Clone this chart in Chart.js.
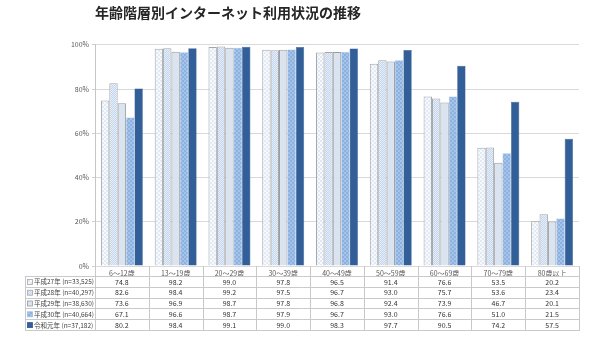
<!DOCTYPE html>
<html>
<head>
<meta charset="utf-8">
<script src="https://cdn.jsdelivr.net/npm/chart.js@4.4.1/dist/chart.umd.min.js"></script>
<style>
  html, body { margin: 0; padding: 0; background: #fff; }
  #c { display: block; }
</style>
</head>
<body>
<canvas id="c" width="601" height="339"></canvas>
<script>
// Age groups (x categories)
const categories = ['6～12歳', '13～19歳', '20～29歳', '30～39歳', '40～49歳', '50～59歳', '60～69歳', '70～79歳', '80歳以上'];

// Survey years with sample sizes
const seriesNames = ['平成27年 (n=33,525)', '平成28年 (n=40,297)', '平成29年 (n=38,630)', '平成30年 (n=40,664)', '令和元年 (n=37,182)'];

// Internet usage rate (%) by age group
const h27 = [74.8, 98.2, 99.0, 97.8, 96.5, 91.4, 76.6, 53.5, 20.2];
const h28 = [82.6, 98.4, 99.2, 97.5, 96.7, 93.0, 75.7, 53.6, 23.4];
const h29 = [73.6, 96.9, 98.7, 97.8, 96.8, 92.4, 73.9, 46.7, 20.1];
const h30 = [67.1, 96.6, 98.7, 97.9, 96.7, 93.0, 76.6, 51.0, 21.5];
const r01 = [80.2, 98.4, 99.1, 99.0, 98.3, 97.7, 90.5, 74.2, 57.5];

// Percent axis ticks
const yTicks = [0, 20, 40, 60, 80, 100];

const FONT = '"Noto Sans CJK JP", "Noto Sans", sans-serif';

// Small tiled fills for the bars
function pattern(bg, fg, cell) {
  const c = document.createElement('canvas');
  c.width = cell * 2; c.height = cell * 2;
  const g = c.getContext('2d');
  g.fillStyle = bg; g.fillRect(0, 0, c.width, c.height);
  g.fillStyle = fg;
  g.fillRect(0, 0, cell, cell);
  g.fillRect(cell, cell, cell, cell);
  return g.createPattern(c, 'repeat');
}

const fills = [
  pattern('#f6f9fd', '#e1eaf5', 2),
  pattern('#c4d6ee', '#e6eef9', 1),
  '#dae4f1',
  pattern('#8bb1e0', '#a6c4ea', 2),
  '#335f99'
];
const borders = ['#a6a6a6', '#a6a6a6', '#9c9c9c', '#9fbde3', '#30588f'];
const borderWidths = [1, 1, 1, 0.5, 0.5];

const seriesData = [h27, h28, h29, h30, r01];

// Data table drawn below the plot, aligned to the category scale
const dataTable = {
  id: 'dataTable',
  afterDraw(chart) {
    const ctx = chart.ctx;
    const area = chart.chartArea;
    const xs = chart.scales.x;
    const n = categories.length;
    const colW = (area.right - area.left) / n;
    const top = Math.round(area.bottom);
    const headH = 10;
    const rowH = 10.8;
    const tableLeft = 25;
    const bodyTop = top + headH;
    const bottom = bodyTop + rowH * seriesNames.length;

    ctx.save();
    ctx.strokeStyle = '#c9c9c9';
    ctx.lineWidth = 1;
    ctx.beginPath();
    // verticals between categories (header + body)
    for (let i = 0; i <= n; i++) {
      const vx = Math.round(area.left + colW * i) + 0.5;
      ctx.moveTo(vx, top);
      ctx.lineTo(vx, Math.round(bottom) + 0.5);
    }
    // left border of the legend column
    ctx.moveTo(tableLeft + 0.5, Math.round(bodyTop) + 0.5);
    ctx.lineTo(tableLeft + 0.5, Math.round(bottom) + 0.5);
    // horizontals
    for (let r = 0; r <= seriesNames.length; r++) {
      const hy = Math.round(bodyTop + rowH * r) + 0.5;
      ctx.moveTo(tableLeft, hy);
      ctx.lineTo(Math.round(area.right) + 1, hy);
    }
    ctx.stroke();

    ctx.textBaseline = 'middle';
    for (let r = 0; r < seriesNames.length; r++) {
      const cy = bodyTop + rowH * r + rowH / 2 + 0.5;
      // legend marker
      ctx.fillStyle = fills[r];
      ctx.fillRect(27.5, cy - 2.5, 5, 5);
      ctx.strokeStyle = borders[r];
      ctx.lineWidth = 0.8;
      ctx.strokeRect(27.5, cy - 2.5, 5, 5);
      // series name
      ctx.fillStyle = '#404040';
      ctx.font = '6.5px ' + FONT;
      ctx.textAlign = 'left';
      ctx.fillText(seriesNames[r], 34, cy);
      // values
      ctx.font = '7px ' + FONT;
      ctx.textAlign = 'center';
      ctx.fillStyle = '#333333';
      for (let i = 0; i < n; i++) {
        ctx.fillText(seriesData[r][i].toFixed(1), xs.getPixelForValue(i), cy);
      }
    }
    ctx.restore();
  }
};

new Chart(document.getElementById('c'), {
  type: 'bar',
  data: {
    labels: categories,
    datasets: seriesNames.map((name, i) => ({
      label: name,
      data: seriesData[i],
      backgroundColor: fills[i],
      borderColor: borders[i],
      borderWidth: borderWidths[i],
      categoryPercentage: 0.78,
      barPercentage: 1.0
    }))
  },
  options: {
    responsive: false,
    animation: false,
    devicePixelRatio: 1,
    layout: { padding: { left: 25, right: 22, top: 0, bottom: 0 } },
    plugins: {
      legend: { display: false },
      tooltip: { enabled: false },
      title: {
        display: true,
        text: '年齢階層別インターネット利用状況の推移',
        align: 'start',
        fullSize: false,
        color: '#262626',
        font: { family: FONT, size: 14, weight: 'bold' },
        padding: { top: 4, bottom: 24 }
      }
    },
    scales: {
      x: {
        grid: { display: false, drawTicks: false },
        border: { display: false },
        ticks: {
          color: '#595959',
          font: { family: FONT, size: 7 },
          padding: 3,
          maxRotation: 0,
          autoSkip: false
        },
        afterFit(scale) { scale.height = 73; }
      },
      y: {
        min: 0,
        max: 100,
        afterBuildTicks(scale) { scale.ticks = yTicks.map(v => ({ value: v })); },
        grid: { color: '#d9d9d9', tickLength: 3, tickColor: '#cfcfcf' },
        border: { color: '#c6c6c6' },
        ticks: {
          color: '#595959',
          font: { family: FONT, size: 7 },
          padding: 3,
          callback: v => v + '%'
        },
        afterFit(scale) { scale.width = 70; }
      }
    }
  },
  plugins: [dataTable]
});
</script>
</body>
</html>
